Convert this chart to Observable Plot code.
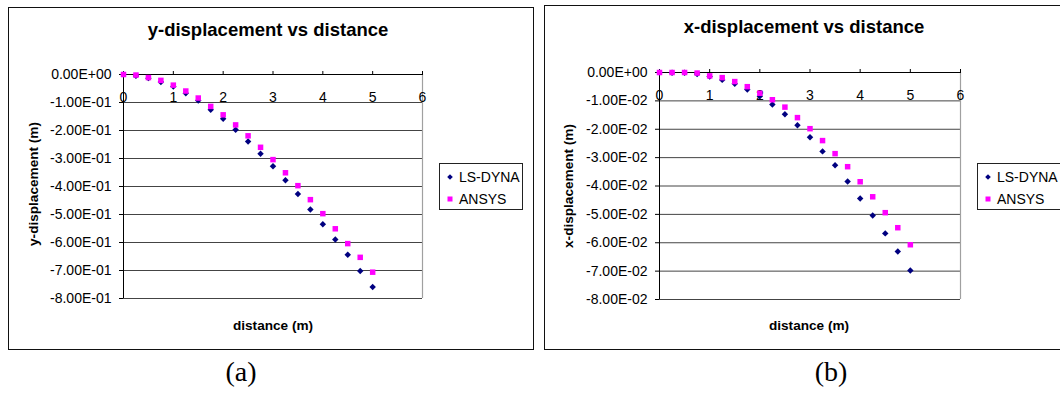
<!DOCTYPE html>
<html>
<head>
<meta charset="utf-8">
<script src="https://cdn.jsdelivr.net/npm/d3@7"></script>
<script src="https://cdn.jsdelivr.net/npm/@observablehq/plot@0.6"></script>
<style>
  html, body { margin: 0; padding: 0; background: #fff; }
  body { width: 1060px; height: 393px; overflow: hidden; position: relative; font-family: "Liberation Sans", Arial, sans-serif; }
  .box { position: absolute; border: 1px solid #111; box-sizing: border-box; }
  .ctr { position: absolute; transform: translate(-50%, -50%); white-space: nowrap; }
  .title { font-weight: bold; font-size: 18.5px; }
  .axt { font-weight: bold; font-size: 13.6px; }
  .cap { font-family: "Liberation Serif", "Times New Roman", serif; font-size: 28px; }
  .legend { position: absolute; border: 1px solid #222; box-sizing: border-box; background: #fff; font-size: 14px; }
  .li { position: absolute; white-space: nowrap; transform: translateY(-50%); }
  svg.plotsvg { position: absolute; }
</style>
</head>
<body>
<script>
// ---- data ----
const distance = [0, 0.25, 0.5, 0.75, 1, 1.25, 1.5, 1.75, 2, 2.25, 2.5, 2.75, 3, 3.25, 3.5, 3.75, 4, 4.25, 4.5, 4.75, 5];

const yDispLSDYNA = [0, -0.005, -0.013, -0.027, -0.043, -0.067, -0.093, -0.126, -0.158, -0.197, -0.239, -0.283, -0.328, -0.378, -0.427, -0.482, -0.535, -0.589, -0.644, -0.702, -0.759];
const yDispANSYS  = [0, -0.002, -0.011, -0.021, -0.038, -0.059, -0.084, -0.114, -0.144, -0.180, -0.219, -0.260, -0.304, -0.351, -0.397, -0.447, -0.497, -0.551, -0.604, -0.653, -0.706];

const xDispLSDYNA = [0, -0.0001, -0.0001, -0.0005, -0.0014, -0.0026, -0.0040, -0.0060, -0.0084, -0.0113, -0.0147, -0.0186, -0.0228, -0.0278, -0.0327, -0.0384, -0.0444, -0.0504, -0.0567, -0.0631, -0.0698];
const xDispANSYS  = [0, 0, 0, -0.0002, -0.0012, -0.0018, -0.0032, -0.0050, -0.0073, -0.0096, -0.0122, -0.0159, -0.0198, -0.0240, -0.0286, -0.0332, -0.0385, -0.0438, -0.0494, -0.0547, -0.0607];

const xTicks = [0, 1, 2, 3, 4, 5, 6];
const yTicksA = [0, -0.1, -0.2, -0.3, -0.4, -0.5, -0.6, -0.7, -0.8];
const yTicksB = [0, -0.01, -0.02, -0.03, -0.04, -0.05, -0.06, -0.07, -0.08];
const seriesNames = ["LS-DYNA", "ANSYS"];
const seriesColors = ["#000080", "#FF00FF"];

// ---- helpers ----
function sci(v) {
  if (Math.abs(v) < 1e-12) return "0.00E+00";
  const e = Math.floor(Math.log10(Math.abs(v)) + 1e-9);
  const m = v / Math.pow(10, e);
  return m.toFixed(2) + "E" + (e < 0 ? "-" : "+") + String(Math.abs(e)).padStart(2, "0");
}

function makeTable(a, b) {
  const rows = [];
  distance.forEach((d, i) => rows.push({d, v: a[i], s: seriesNames[0]}));
  distance.forEach((d, i) => rows.push({d, v: b[i], s: seriesNames[1]}));
  return rows;
}

function chart(rows, yTicks, opts) {
  const ymin = yTicks[yTicks.length - 1];
  const svg = Plot.plot({
    width: 530,
    height: 393,
    marginLeft: opts.ml,
    marginRight: opts.mr,
    marginTop: opts.mt,
    marginBottom: opts.mb,
    style: {background: "none", overflow: "visible", fontFamily: "'Liberation Sans', Arial, sans-serif", fontSize: "14px", color: "#000"},
    x: {domain: [0, 6], label: null},
    y: {domain: [ymin, 0], label: null},
    marks: [
      Plot.gridY(yTicks, {stroke: "#444", strokeOpacity: 1, strokeWidth: 1}),
      Plot.ruleX([6], {stroke: "#a0a0a0", strokeWidth: 1.2}),
      Plot.ruleY([ymin], {stroke: "#444"}),
      Plot.ruleX([0], {stroke: "#000"}),
      Plot.ruleY([0], {stroke: "#000"}),
      Plot.axisY({ticks: yTicks, tickSize: 4, tickPadding: 8, tickFormat: sci, fontSize: 14, stroke: "#000", fill: "#000", label: null}),
      Plot.axisX({anchor: "top", ticks: xTicks, tickSize: 4, tickFormat: () => "", stroke: "#000", label: null}),
      Plot.text(xTicks, {x: d => d, y: 0, dy: 23, text: d => String(d), fontSize: 14, fill: "#000"}),
      Plot.dot(rows.filter(r => r.s === seriesNames[0]), {x: "d", y: "v", symbol: "diamond2", r: 2.9, fill: seriesColors[0], stroke: "none"}),
      Plot.dot(rows.filter(r => r.s === seriesNames[1]), {x: "d", y: "v", symbol: "square", r: 3.1, fill: seriesColors[1], stroke: "none"})
    ]
  });
  svg.classList.add("plotsvg");
  svg.style.left = opts.left + "px";
  svg.style.top = "0px";
  svg.style.width = "530px";
  svg.style.height = "393px";
  svg.style.maxWidth = "none";
  return svg;
}

const root = document.body;
function add(html) { root.insertAdjacentHTML("beforeend", html); }

// outer boxes
add(`<div class="box" style="left:8px;top:7px;width:526px;height:343px;"></div>`);
add(`<div class="box" style="left:544px;top:5px;width:540px;height:345px;"></div>`);

root.appendChild(chart(makeTable(yDispLSDYNA, yDispANSYS), yTicksA, {left: 0, ml: 123, mr: 108, mt: 74, mb: 95}));
root.appendChild(chart(makeTable(xDispLSDYNA, xDispANSYS), yTicksB, {left: 530, ml: 129, mr: 100, mt: 72, mb: 94}));

// titles
add(`<div class="ctr title" style="left:268px;top:30px;">y-displacement vs distance</div>`);
add(`<div class="ctr title" style="left:804px;top:27px;">x-displacement vs distance</div>`);
add(`<div class="ctr axt" style="left:33px;top:184px;transform:translate(-50%,-50%) rotate(-90deg);">y-displacement (m)</div>`);
add(`<div class="ctr axt" style="left:568px;top:186px;transform:translate(-50%,-50%) rotate(-90deg);">x-displacement (m)</div>`);
add(`<div class="ctr axt" style="left:273px;top:325px;">distance (m)</div>`);
add(`<div class="ctr axt" style="left:809px;top:325px;">distance (m)</div>`);

// legends
function legend(left, width) {
  const diamond = `<svg width="8" height="8" style="position:absolute;left:-4px;top:-4px;overflow:visible"><path d="M4,1.2L6.8,4L4,6.8L1.2,4Z" fill="${seriesColors[0]}"/></svg>`;
  const square = `<svg width="8" height="8" style="position:absolute;left:-4px;top:-4px;overflow:visible"><rect x="1.5" y="1.5" width="5" height="5" fill="${seriesColors[1]}"/></svg>`;
  add(`<div class="legend" style="left:${left}px;top:163px;width:${width}px;height:47px;">
    <div style="position:absolute;left:10px;top:13px;">${diamond}</div>
    <div class="li" style="left:19px;top:13px;">${seriesNames[0]}</div>
    <div style="position:absolute;left:10px;top:35px;">${square}</div>
    <div class="li" style="left:19px;top:35px;">${seriesNames[1]}</div>
  </div>`);
}
legend(439, 84);
legend(977, 120);

// captions
add(`<div class="ctr cap" style="left:241px;top:372px;">(a)</div>`);
add(`<div class="ctr cap" style="left:831px;top:372px;">(b)</div>`);
</script>
</body>
</html>
